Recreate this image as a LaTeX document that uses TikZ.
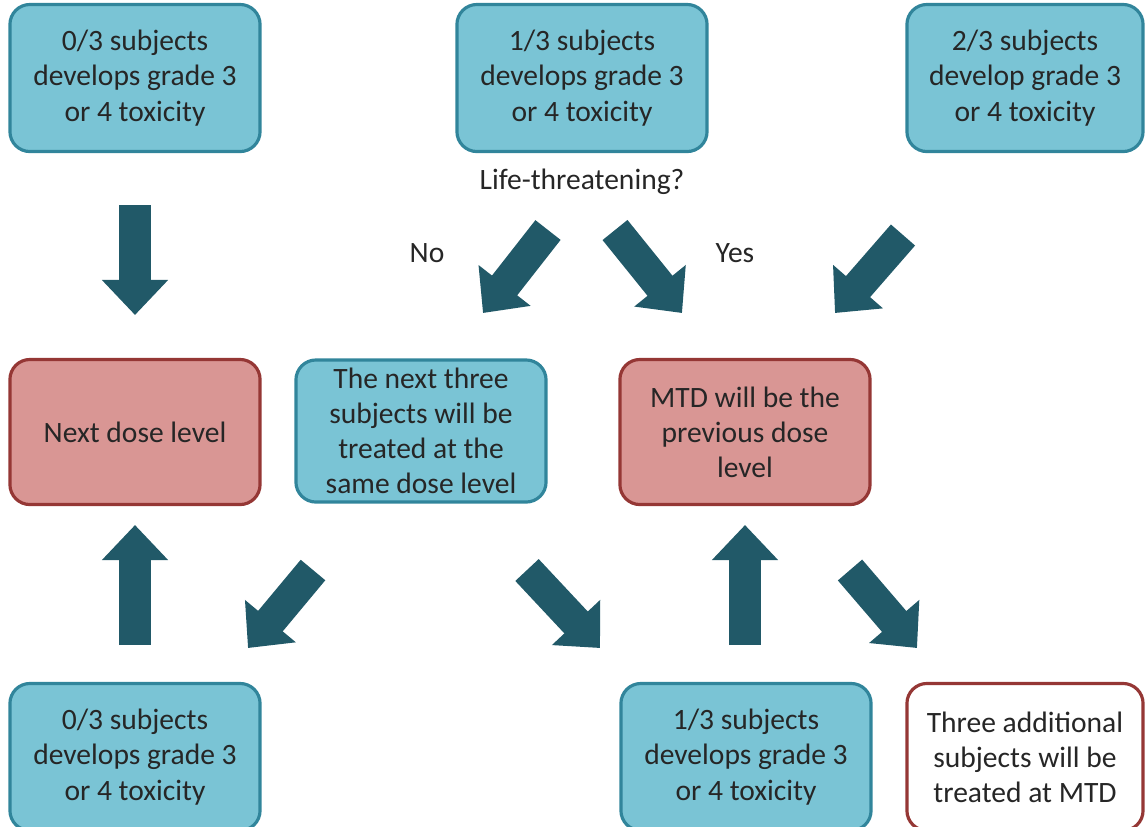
\documentclass[tikz,border=0pt]{standalone}
\usepackage{fontspec}
\setmainfont{Carlito}
\usetikzlibrary{arrows.meta,positioning}
\definecolor{boxblue}{RGB}{122,196,213}
\definecolor{boxblueline}{RGB}{49,133,155}
\definecolor{boxred}{RGB}{217,150,148}
\definecolor{boxredline}{RGB}{149,55,53}
\definecolor{arrowteal}{RGB}{33,89,104}
\tikzset{
  stepbox/.style={draw=boxblueline, fill=boxblue, line width=0.9pt, rounded corners=0.2cm,
    minimum width=2.5cm, minimum height=1.47cm, inner ysep=1pt, align=center,
    font=\fontsize{8.4}{10}\selectfont, text=black!85},
  redbox/.style={stepbox, draw=boxredline, fill=boxred, minimum height=1.45cm},
  endbox/.style={stepbox, draw=boxredline, fill=white},
  plain/.style={font=\fontsize{8.4}{10}\selectfont, text=black!85},
  bigarrow/.style={draw=arrowteal, line width=0.32cm, -{Triangle[width=0.64cm,length=0.35cm]}}
}
\begin{document}
\begin{tikzpicture}[x=0.01cm, y=-0.01cm]
  \useasboundingbox (0,0) rectangle (1145,826);
  \node[stepbox] (top0) at (135,78) {0/3 subjects\\develops grade 3\\or 4 toxicity};
  \node[stepbox] (top1) at (582,78) {1/3 subjects\\develops grade 3\\or 4 toxicity};
  \node[stepbox, minimum width=2.36cm] (top2) at (1025,78) {2/3 subjects\\develop grade 3\\or 4 toxicity};
  \node[plain] (life) at (582,182) {Life-threatening?};
  \node[plain] (no) at (427,253) {No};
  \node[plain] (yes) at (735,253) {Yes};

  \node[redbox] (next) at (135,432) {Next dose level};
  \node[stepbox, minimum height=1.42cm] (same) at (421,431) {The next three\\subjects will be\\treated at the\\same dose level};
  \node[redbox] (mtd) at (745,432) {MTD will be the\\previous dose\\level};

  \node[stepbox] (bot0) at (135,757) {0/3 subjects\\develops grade 3\\or 4 toxicity};
  \node[stepbox] (bot1) at (746,757) {1/3 subjects\\develops grade 3\\or 4 toxicity};
  \node[endbox, minimum width=2.36cm] (extra) at (1025,757) {Three additional\\subjects will be\\treated at MTD};

  \coordinate (a1) at (135,205);  \coordinate (b1) at (135,315);
  \coordinate (a2) at (548,230);  \coordinate (b2) at (483,313);
  \coordinate (a3) at (615,230);  \coordinate (b3) at (682,313);
  \coordinate (a4) at (903,235);  \coordinate (b4) at (835,313);
  \coordinate (a5) at (135,645);  \coordinate (b5) at (135,525);
  \coordinate (a6) at (313,570);  \coordinate (b6) at (248,648);
  \coordinate (a7) at (527,570);  \coordinate (b7) at (600,648);
  \coordinate (a8) at (745,645);  \coordinate (b8) at (745,525);
  \coordinate (a9) at (850,570);  \coordinate (b9) at (917,648);
  \foreach \i in {1,...,9} \draw[bigarrow] (a\i) -- (b\i);
\end{tikzpicture}
\end{document}
